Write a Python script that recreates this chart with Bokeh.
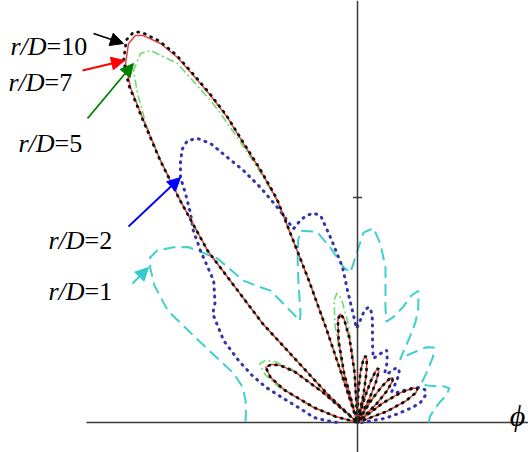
import numpy as np
from bokeh.plotting import figure
from bokeh.models import Range1d, Span, Arrow, NormalHead
from bokeh.core.properties import value
from bokeh.embed import file_html
from bokeh.resources import INLINE

# ---------------- data: polar patterns (phi in degrees, r in relative units) -------------
# small lobes 0..91 deg shared by r/D = 5, 7, 10
SIDE_PHI = [0, 17, 20.75, 23.9, 27.0, 29.5, 31.8, 34.7, 37.55, 41, 44.3, 47.05, 49.8, 52, 53.8, 56.05, 58.3, 61,
            63.4, 65.4, 67.4, 69, 70.4, 72.15, 73.9, 76, 78.1, 79.85, 81.6, 83, 84.6, 86.6, 88.6, 91]
SIDE_R = [0, 0, 0.313, 0.524, 0.656, 0.69, 0.656, 0.524, 0.313, 0, 0.259, 0.433, 0.542, 0.57, 0.542, 0.433,
          0.259, 0, 0.263, 0.441, 0.552, 0.58, 0.552, 0.441, 0.263, 0, 0.304, 0.509, 0.637, 0.67, 0.637,
          0.509, 0.304, 0]

# lobe near 99 deg
LOBE99_PHI = [93.4, 95.4, 97.4, 99, 100.8, 103.05, 105.3]
LOBE99_R_7 = [0.499, 0.836, 1.046, 1.10, 1.046, 0.836, 0.499]
LOBE99_R_5 = [0.595, 0.996, 1.246, 1.31, 1.246, 0.996, 0.595]

# main lobe near 120 deg
MAIN_PHI_7 = [108, 108.2, 108.4, 108.9, 109.82, 111.05, 112.22, 113.09, 114.21, 115.3, 116.25, 117.46, 118.95,
              119.84, 121.14, 122.87, 124.12, 125.32, 126.94, 128.6, 131.1, 132.1, 133.8, 134.5, 137, 138]
MAIN_R_7 = [0, 0.5, 1.0, 1.5, 2.36, 2.70, 3.01, 3.315, 3.585, 3.838, 4.07, 4.271, 4.422, 4.462, 4.428, 4.274,
            4.047, 3.701, 3.278, 2.84, 2.28, 1.83, 1.37, 0.87, 0.37, 0]
MAIN_R_10 = [0, 0.5, 1.0, 1.5, 2.38, 2.72, 3.03, 3.335, 3.61, 3.865, 4.10, 4.30, 4.46, 4.50, 4.47, 4.31,
             4.08, 3.72, 3.29, 2.85, 2.28, 1.83, 1.37, 0.87, 0.37, 0]
MAIN_PHI_5 = [108, 108.2, 108.4, 108.9, 109.82, 111.05, 112.22, 113.9, 114.54, 116.63, 119.09, 120.46, 122.47,
              123.77, 125.32, 126.94, 128.6, 131.1, 132.1, 133.8, 134.5, 137, 138]
MAIN_R_5 = [0, 0.5, 1.0, 1.5, 2.33, 2.64, 2.93, 3.38, 3.54, 4.016, 4.257, 4.281, 4.172, 3.958, 3.66, 3.278,
            2.84, 2.28, 1.83, 1.37, 0.87, 0.37, 0]

# lobe near 149 deg
LEFT_PHI = [139, 141, 143.5, 146, 149, 152.6, 156, 161, 165, 170, 180]
LEFT_R_7 = [0.45, 0.80, 0.96, 1.04, 1.07, 0.98, 0.80, 0.46, 0.22, 0, 0]
LEFT_R_5 = [0.48, 0.85, 1.02, 1.11, 1.14, 1.04, 0.85, 0.49, 0.23, 0, 0]

PHI_2 = [0, 4, 7.6, 8.5, 12.4, 15.3, 17.6, 21.7, 26, 30, 34, 38, 42, 46, 49, 52, 55, 58, 61, 64, 68, 72, 76,
         78.2, 80.4, 81.6, 83, 84.5, 86.5, 88.5, 90.6, 92.6, 94.3, 95.5, 98.3, 100.1, 101.9, 104, 105.8,
         108.3, 110.41, 112.43, 114.34, 116.13, 117.78, 119.4, 121.08, 122.56, 124.04, 125.85, 126.91,
         128.63, 130.5, 132.4, 135.4, 140, 143.1, 148.5, 152.5, 156, 159, 162, 166, 170, 173.5, 177, 180]
R_2 = [0.04, 0.08, 0.15, 0.28, 0.42, 0.57, 0.66, 0.73, 0.75, 0.70, 0.58, 0.48, 0.46, 0.55, 0.63, 0.68, 0.66,
       0.58, 0.56, 0.68, 0.78, 0.72, 0.66, 0.74, 0.90, 1.03, 1.12, 1.16, 1.12, 1.02, 0.94, 1.12, 1.32,
       1.56, 1.87, 2.10, 2.14, 2.13, 2.10, 2.04, 2.294, 2.542, 2.766, 2.952, 3.154, 3.26, 3.293, 3.251,
       3.162, 3.022, 2.864, 2.675, 2.53, 2.33, 2.02, 1.86, 1.81, 1.57, 1.34, 1.15, 0.98, 0.78, 0.60, 0.50,
       0.44, 0.30, 0.20]

PHI_1 = [0, 5, 10, 14, 17, 20.5, 23, 26, 31, 35, 38, 41, 44.5, 47.5, 50.5, 53, 56, 58.5, 60, 62.1, 65.2, 67,
         68.5, 71, 74, 76.3, 79.8, 82.7, 85.3, 88.2, 90, 92.7, 95.2, 98.8, 102, 106.5, 108, 110, 112.6,
         117.6, 119.5, 121.5, 123.4, 126, 128.8, 130.5, 134, 136.4, 139.3, 141.5, 143.2, 146, 149.5, 153,
         158.4, 163, 169, 175, 180]
R_1 = [0.71, 0.73, 0.78, 0.85, 0.93, 0.98, 0.93, 0.83, 0.74, 0.83, 0.91, 1.00, 1.07, 1.02, 0.92, 0.85, 0.76,
       1.00, 1.16, 1.30, 1.45, 1.38, 1.24, 1.12, 1.05, 1.18, 1.58, 1.80, 1.95, 1.90, 1.72, 1.50, 1.56,
       1.77, 1.95, 2.00, 1.92, 1.75, 1.54, 1.23, 1.17, 1.35, 1.58, 1.68, 1.82, 2.16, 2.44, 2.54, 2.64,
       2.65, 2.59, 2.45, 2.20, 1.76, 1.33, 1.20, 1.14, 1.12, 1.12]

LABEL_NAMES = ["10", "7", "5", "2", "1"]

# ---------------- annotation placement -------------
LABEL_X = [-3.11, -3.13, -3.03, -2.73, -2.73]
LABEL_Y = [3.76, 3.40, 2.79, 1.82, 1.31]
ARROW_START = [(-2.64, 3.89), (-2.75, 3.52), (-2.70, 3.04), (-2.29, 1.96), (-2.25, 1.39)]
ARROW_END = [(-2.34, 3.79), (-2.33, 3.62), (-2.24, 3.59), (-1.77, 2.45), (-2.09, 1.55)]
ARROW_COLORS = ["#000000", "#ff0000", "#008000", "#0000ff", "#33cccc"]


def to_xy(phi, r):
    th = np.radians(np.asarray(phi, dtype=float))
    rr = np.asarray(r, dtype=float)
    return rr * np.cos(th), rr * np.sin(th)


PHI_7 = SIDE_PHI + LOBE99_PHI + MAIN_PHI_7 + LEFT_PHI
R_7 = SIDE_R + LOBE99_R_7 + MAIN_R_7 + LEFT_R_7
PHI_10 = SIDE_PHI + LOBE99_PHI + MAIN_PHI_7 + LEFT_PHI
R_10 = SIDE_R + LOBE99_R_7 + MAIN_R_10 + LEFT_R_7
PHI_5 = SIDE_PHI + LOBE99_PHI + MAIN_PHI_5 + LEFT_PHI
R_5 = SIDE_R + LOBE99_R_5 + MAIN_R_5 + LEFT_R_5

p = figure(width=528, height=452, x_range=Range1d(-3.57, 1.71), y_range=Range1d(-0.30, 4.22),
           output_backend="svg", toolbar_location=None, min_border=0,
           x_axis_location=None, y_axis_location=None)
p.grid.visible = False
p.outline_line_color = None
p.background_fill_color = "white"
p.border_fill_color = "white"

AX = "#3a3a3a"
p.add_layout(Span(location=0, dimension="height", line_color=AX, line_width=1.5))
p.segment(x0=[-2.71], y0=[0], x1=[1.71], y1=[0], line_color=AX, line_width=1.5)
p.scatter(x=[0], y=[2.25], marker="dash", size=9, line_color=AX, line_width=1.5)

# curves
x, y = to_xy(PHI_1, R_1)
p.line(x, y, line_color="#3fcfcf", line_width=2, line_dash="12 6")
x, y = to_xy(PHI_2, R_2)
p.line(x, y, line_color="#3535a8", line_width=3, line_dash="1 6", line_cap="round")
x, y = to_xy(PHI_5, R_5)
p.line(x, y, line_color="#6fdc6f", line_width=1.6, line_dash="8 3 2 3")
x, y = to_xy(PHI_7, R_7)
p.line(x, y, line_color="#e8403a", line_width=1.5)
x, y = to_xy(PHI_10, R_10)
p.line(x, y, line_color="#111111", line_width=2.8, line_dash="1 6", line_cap="round")

# labels
FONT = value("Liberation Serif")
p.text(x=LABEL_X, y=LABEL_Y, text=["r/D"] * len(LABEL_NAMES), text_font=FONT,
       text_font_style="italic", text_font_size="26px", text_align="right",
       text_baseline="alphabetic", text_color="black")
p.text(x=LABEL_X, y=LABEL_Y, text=["=" + n for n in LABEL_NAMES], text_font=FONT,
       text_font_size="26px", text_align="left", text_baseline="alphabetic", text_color="black")

for (xs, ys), (xe, ye), c in zip(ARROW_START, ARROW_END, ARROW_COLORS):
    p.add_layout(Arrow(end=NormalHead(size=13, fill_color=c, line_color=c), x_start=xs, y_start=ys,
                       x_end=xe, y_end=ye, line_color=c, line_width=1.8))

p.text(x=[1.60], y=[0.07], text=["ϕ"], text_font=FONT, text_font_style="italic",
       text_font_size="30px", text_align="center", text_baseline="alphabetic", text_color="black")

open("out.html", "w").write(file_html(p, INLINE))
